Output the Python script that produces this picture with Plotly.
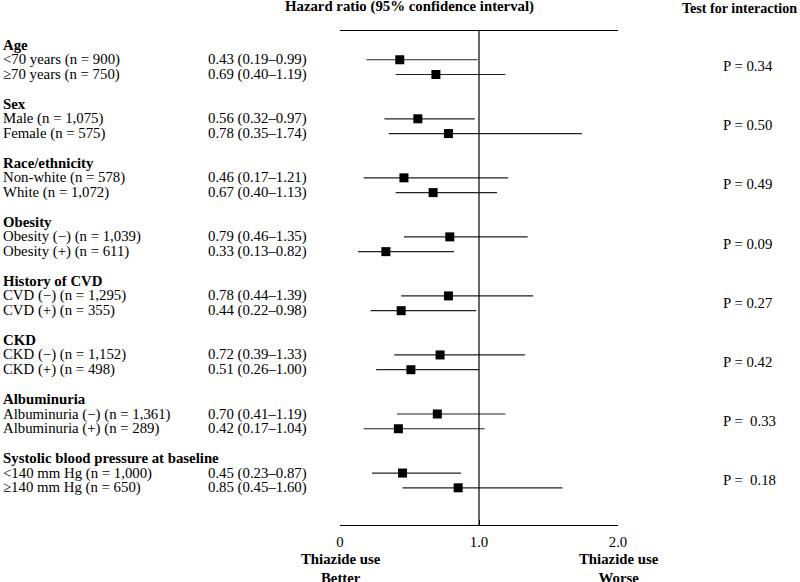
import plotly.graph_objects as go

# ---- data ----
groups = ["Age", "Sex", "Race/ethnicity", "Obesity", "History of CVD", "CKD",
          "Albuminuria", "Systolic blood pressure at baseline"]
sub_labels = [
    "<70 years (n = 900)", "≥70 years (n = 750)",
    "Male (n = 1,075)", "Female (n = 575)",
    "Non-white (n = 578)", "White (n = 1,072)",
    "Obesity (−) (n = 1,039)", "Obesity (+) (n = 611)",
    "CVD (−) (n = 1,295)", "CVD (+) (n = 355)",
    "CKD (−) (n = 1,152)", "CKD (+) (n = 498)",
    "Albuminuria (−) (n = 1,361)", "Albuminuria (+) (n = 289)",
    "<140 mm Hg (n = 1,000)", "≥140 mm Hg (n = 650)",
]
hr = [0.43, 0.69, 0.56, 0.78, 0.46, 0.67, 0.79, 0.33,
      0.78, 0.44, 0.72, 0.51, 0.70, 0.42, 0.45, 0.85]
ci_low = [0.19, 0.40, 0.32, 0.35, 0.17, 0.40, 0.46, 0.13,
          0.44, 0.22, 0.39, 0.26, 0.41, 0.17, 0.23, 0.45]
ci_high = [0.99, 1.19, 0.97, 1.74, 1.21, 1.13, 1.35, 0.82,
           1.39, 0.98, 1.33, 1.00, 1.19, 1.04, 0.87, 1.60]
p_text = ["P = 0.34", "P = 0.50", "P = 0.49", "P = 0.09",
          "P = 0.27", "P = 0.42", "P =  0.33", "P =  0.18"]

# ---- layout helpers ----
W, H = 800, 582
ML, MR, MT, MB = 340, 182, 31, 57
ROW0, ROWH = 45, 14.76          # pixel of first header, pixel per row unit
FONT = "Liberation Serif, Times New Roman, serif"
FS = 14.8


def xpaper(px):
    return (px - ML) / (W - ML - MR)


def ypaper(py):
    return (H - MB - py) / (H - MT - MB)


def yrow(py):
    return (py - ROW0) / ROWH


# rows: header at 4g, subgroups at 4g+1 and 4g+2
head_y = [4 * g for g in range(len(groups))]
sub_y = [4 * (i // 2) + 1 + (i % 2) for i in range(len(sub_labels))]
hr_text = [f"{h:.2f} ({lo:.2f}–{hi:.2f})" for h, lo, hi in zip(hr, ci_low, ci_high)]

fig = go.Figure()

fig.add_trace(go.Scatter(
    x=hr, y=sub_y, mode="markers",
    marker=dict(symbol="square", size=9, color="black"),
    error_x=dict(type="data", symmetric=False,
                 array=[h2 - h for h, h2 in zip(hr, ci_high)],
                 arrayminus=[h - l for h, l in zip(hr, ci_low)],
                 width=0, thickness=1.2, color="#222222"),
    showlegend=False, hoverinfo="skip",
))

ann = []
for g, y in zip(groups, head_y):
    ann.append(dict(x=xpaper(1), y=y, xref="paper", yref="y", text=f"<b>{g}</b>",
                    xanchor="left", yanchor="middle", showarrow=False))
for lab, t, y in zip(sub_labels, hr_text, sub_y):
    ann.append(dict(x=xpaper(1), y=y, xref="paper", yref="y", text=lab,
                    xanchor="left", yanchor="middle", showarrow=False))
    ann.append(dict(x=xpaper(206), y=y, xref="paper", yref="y", text=t,
                    xanchor="left", yanchor="middle", showarrow=False))
for p, y in zip(p_text, head_y):
    ann.append(dict(x=xpaper(721), y=y + 1.45, xref="paper", yref="y", text=p,
                    xanchor="left", yanchor="middle", showarrow=False))

ann.append(dict(x=xpaper(409), y=ypaper(7), xref="paper", yref="paper",
                text="<b>Hazard ratio (95% confidence interval)</b>",
                xanchor="center", yanchor="middle", showarrow=False))
ann.append(dict(x=xpaper(680), y=ypaper(8), xref="paper", yref="paper",
                text="<b>Test for interaction</b>", font=dict(size=14.1),
                xanchor="left", yanchor="middle", showarrow=False))
ann.append(dict(x=xpaper(341), y=ypaper(568), xref="paper", yref="paper",
                text="<b>Thiazide use<br>Better</b>",
                xanchor="center", yanchor="middle", showarrow=False))
ann.append(dict(x=xpaper(619), y=ypaper(568), xref="paper", yref="paper",
                text="<b>Thiazide use<br>Worse</b>",
                xanchor="center", yanchor="middle", showarrow=False))

fig.update_layout(
    width=W, height=H,
    margin=dict(l=ML, r=MR, t=MT, b=MB, pad=0, autoexpand=False),
    paper_bgcolor="white", plot_bgcolor="white",
    font=dict(family=FONT, size=FS, color="black"),
    annotations=ann,
    shapes=[dict(type="line", xref="x", yref="paper", x0=1, x1=1, y0=0, y1=1,
                 line=dict(color="black", width=1.2))],
)
fig.update_xaxes(range=[0, 2], tickvals=[0, 1, 2], ticktext=["0", "1.0", "2.0"],
                 showline=True, mirror=True, linecolor="black", linewidth=1.2,
                 ticks="inside", ticklen=5, tickcolor="black", tickwidth=1.2,
                 ticklabelstandoff=3,
                 showgrid=False, zeroline=False, fixedrange=True)
fig.update_yaxes(range=[yrow(525), yrow(31)], visible=False, showgrid=False,
                 zeroline=False, fixedrange=True)

# page body has an 8px default margin; remove it so the figure sits at 0,0
fig.write_html("out.html", config={"displayModeBar": False},
               post_script="document.body.style.margin='0';")
